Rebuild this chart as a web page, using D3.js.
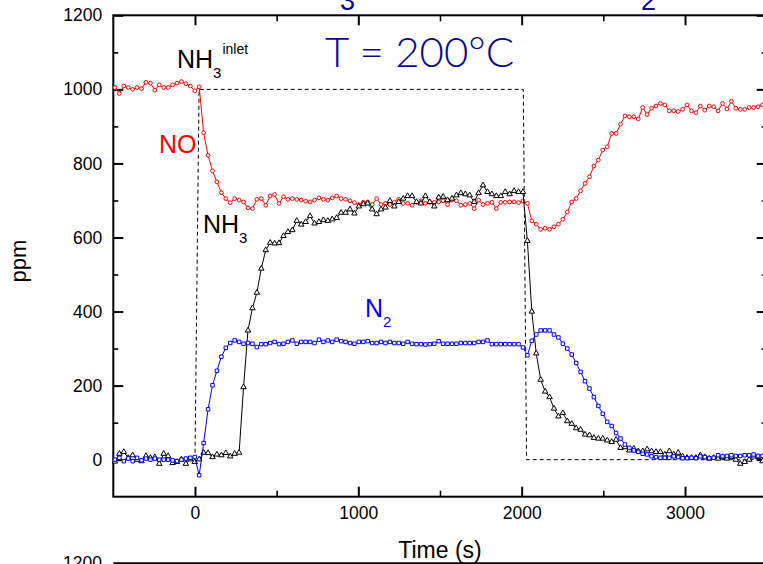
<!DOCTYPE html>
<html>
<head>
<meta charset="utf-8">
<script src="https://cdn.jsdelivr.net/npm/d3@7"></script>
<style>
  html, body { margin: 0; padding: 0; background: #fff; }
  svg { display: block; }
  text { font-family: "Liberation Sans", Arial, sans-serif; }
</style>
</head>
<body>
<svg id="chart" width="763" height="564"></svg>
<script>
// Sample clock shared by all three analyser channels (s)
const tStart = -490;
const tStep = 27.15;

// NO outlet concentration (ppm)
const noValues = [
  1005, 989, 1009, 1005, 1000, 1005, 1002, 1019, 1017, 998, 1012, 1005, 1005, 1012, 1017, 1021, 1015, 1009, 996, 1007,
  883, 822, 780, 750, 721, 705,
  694, 705, 701, 696, 680, 678, 703, 705, 687, 712, 716, 692, 710, 703, 705, 703, 701, 698, 696, 701, 707, 703, 701, 707,
  712, 705, 703, 699, 694, 689,
  695, 696, 689, 705, 689, 692, 689, 695, 703, 692, 692, 687, 695, 699, 692, 695, 695, 696, 699, 689, 701, 699, 687, 689,
  692, 678, 701, 689, 692, 695, 678, 695, 695, 696, 696, 694, 699, 692,
  645, 636, 622, 625, 622, 629, 636, 649, 669, 696,
  705, 726, 746, 764, 793, 809, 836, 845, 881, 881, 906, 928, 926, 926, 920, 951, 932, 949, 955, 962, 958, 942, 942, 940,
  946, 958, 942, 937, 955, 944, 955, 953, 942, 962, 947, 968, 949, 946, 946, 951, 951, 953, 958
];

// NH3 outlet concentration (ppm)
const nh3Values = [
  -5, 16, 21, 5, 12, 0, -4, 10, 5, 7, -11, 16, 10, -9, -6, 1, -11, 1, -6, 1, 19, 18, 7, 14, 12, 18, 9, 16, 19,
  196, 349, 409, 451, 516, 566, 586, 584, 585, 604, 615, 620, 645, 635, 642, 658, 638, 642, 647, 645, 649, 653, 667, 667,
  676, 665, 684,
  690, 692, 676, 663, 676, 681, 699, 684, 696, 705, 712, 712, 696, 692, 712, 696, 684, 708, 710, 701, 705, 714, 720, 717,
  714, 696, 720, 741, 723, 717, 712, 712, 723, 717, 726, 723, 723, 591,
  400, 287, 216, 184, 169, 138, 117, 126, 104, 97, 85, 81, 68, 66, 59, 57, 57, 52, 48, 54, 32, 34, 25, 30, 23, 23, 28,
  23, 21, 21, 14, 23, 14, 19, 9, 5, 5, 5, 12, 7, 3, 5, 3, 7, 3, 7, 0, -11, -6, 0, 9, 7, -4
];

// N2 outlet concentration (ppm)
const n2Values = [
  0, 5, -4, 3, -4, 5, -2, 3, 0, 3, 0, 0, 0, -2, -4, 0, 3, 5, 7,
  -42, 45, 136, 201, 240, 278, 302, 315, 322, 318,
  313, 315, 313, 304, 312, 312, 315, 318, 312, 313, 318, 322, 313, 318, 318, 318, 315, 324, 318, 322, 318, 324, 320, 318,
  315, 313, 318,
  318, 320, 315, 315, 318, 315, 318, 315, 315, 313, 318, 313, 312, 312, 311, 312, 313, 320, 313, 313, 313, 313, 315, 315,
  315, 315, 318, 318, 322, 312, 312, 312, 312, 312, 312,
  312, 303, 282, 321, 338, 349, 349, 349, 338, 330, 313, 300, 284, 261, 237, 212, 192, 169, 145, 124, 102, 91, 72, 57,
  41, 32, 25, 21, 16, 14, 9, 7, 5, 5, 5, 9, 7, 4, 4, 5, 4, 9, 7, 4, 5, 12, 9, 10, 12, 10, 10, 12, 12, 14, 10, 10
];

// NH3 feed step (ppm)
const inletTimes = [0, 25, 2010, 2030, 3500];
const inletValues = [0, 1000, 1000, 0, 0];

// Axis ticks
const xMajorTicks = [0, 1000, 2000, 3000];
const xMinorTicks = [500, 1500, 2500, 3500];
const yMajorTicks = [0, 200, 400, 600, 800, 1000, 1200];
const yMinorTicks = [100, 300, 500, 700, 900, 1100];

(function () {
  const times = d3.range(noValues.length).map(i => tStart + i * tStep);

  const svg = d3.select("#chart");
  svg.append("rect").attr("width", 763).attr("height", 564).attr("fill", "#fff");

  const m = { left: 113.3, right: 766.7, top: 15.3, bottom: 496.7 };
  const x = d3.scaleLinear().domain([-500, 3500]).range([m.left, m.right]);
  const y = d3.scaleLinear().domain([-100, 1200]).range([m.bottom, m.top]);

  const tickFont = "17.5px";

  // Axes: ticks point into the plot on all four sides
  function styleAxis(g, width) {
    g.select(".domain").remove();
    g.selectAll(".tick line").attr("stroke", "#000").attr("stroke-width", width);
    g.selectAll("text").attr("fill", "#000").style("font-size", tickFont)
      .style("font-family", "'Liberation Sans', Arial, sans-serif");
  }

  // bottom
  svg.append("g").attr("transform", `translate(0,${m.bottom})`)
    .call(d3.axisBottom(x).tickValues(xMajorTicks).tickSize(-10).tickPadding(22).tickFormat(d3.format("d")))
    .call(g => styleAxis(g, 2))
    .call(g => g.selectAll("text").attr("dy", "0"));
  svg.append("g").attr("transform", `translate(0,${m.bottom})`)
    .call(d3.axisBottom(x).tickValues(xMinorTicks).tickSize(-6).tickFormat(""))
    .call(g => styleAxis(g, 1.6));
  // top
  svg.append("g").attr("transform", `translate(0,${m.top})`)
    .call(d3.axisTop(x).tickValues(xMajorTicks).tickSize(-10).tickFormat(""))
    .call(g => styleAxis(g, 2));
  svg.append("g").attr("transform", `translate(0,${m.top})`)
    .call(d3.axisTop(x).tickValues(xMinorTicks).tickSize(-6).tickFormat(""))
    .call(g => styleAxis(g, 1.6));
  // left
  svg.append("g").attr("transform", `translate(${m.left},0)`)
    .call(d3.axisLeft(y).tickValues(yMajorTicks).tickSize(-10).tickPadding(11).tickFormat(d3.format("d")))
    .call(g => styleAxis(g, 2));
  svg.append("g").attr("transform", `translate(${m.left},0)`)
    .call(d3.axisLeft(y).tickValues(yMinorTicks).tickSize(-5).tickFormat(""))
    .call(g => styleAxis(g, 1.6));
  // right
  svg.append("g").attr("transform", `translate(${m.right},0)`)
    .call(d3.axisRight(y).tickValues(yMajorTicks).tickSize(-10).tickFormat(""))
    .call(g => styleAxis(g, 2));
  svg.append("g").attr("transform", `translate(${m.right},0)`)
    .call(d3.axisRight(y).tickValues(yMinorTicks).tickSize(-5).tickFormat(""))
    .call(g => styleAxis(g, 1.6));

  // frame
  svg.append("rect")
    .attr("x", m.left).attr("y", m.top)
    .attr("width", m.right - m.left).attr("height", m.bottom - m.top)
    .attr("fill", "none").attr("stroke", "#000").attr("stroke-width", 2);

  // axis titles
  svg.append("text").attr("x", (m.left + m.right) / 2).attr("y", 558)
    .attr("text-anchor", "middle").style("font-size", "23px").text("Time (s)");
  svg.append("text").attr("transform", "translate(25.5,261) rotate(-90)")
    .attr("text-anchor", "middle").style("font-size", "22px").text("ppm");

  // plot contents
  const plot = svg.append("g");

  const inlet = inletTimes.map((t, i) => [t, inletValues[i]]);
  plot.append("path").datum(inlet)
    .attr("d", d3.line().x(d => x(d[0])).y(d => y(d[1])))
    .attr("fill", "none").attr("stroke", "#000").attr("stroke-width", 1)
    .attr("stroke-dasharray", "4,3");

  function drawSeries(values, color, symbolType, size) {
    const pts = values.map((v, i) => [times[i], v]).filter(d => d[0] <= 3500);
    const g = plot.append("g");
    g.append("path").datum(pts)
      .attr("d", d3.line().x(d => x(d[0])).y(d => y(d[1])))
      .attr("fill", "none").attr("stroke", color).attr("stroke-width", 1);
    g.selectAll("path.m").data(pts).join("path").attr("class", "m")
      .attr("transform", d => `translate(${x(d[0])},${y(d[1])})`)
      .attr("d", d3.symbol().type(symbolType).size(size))
      .attr("fill", "#fff").attr("stroke", color).attr("stroke-width", 1);
  }

  drawSeries(noValues, "#ff0000", d3.symbolCircle, 11);
  drawSeries(nh3Values, "#000000", d3.symbolTriangle, 13);
  drawSeries(n2Values, "#0000ff", d3.symbolSquare, 12);

  // labels
  const navy = "#0a0a8c";
  svg.append("text").attr("x", 325).attr("y", 67).attr("fill", navy)
    .style("font-family", "Lato, 'Liberation Sans', sans-serif").style("font-weight", 300)
    .style("font-size", "42px").text("T = 200°C");

  const lab1 = svg.append("text").attr("x", 177).attr("y", 68).attr("fill", "#000").style("font-size", "25px");
  lab1.append("tspan").text("NH");
  lab1.append("tspan").attr("dy", 10).style("font-size", "15px").text("3");
  lab1.append("tspan").attr("dx", 1).attr("dy", -24).style("font-size", "14px").text("inlet");

  svg.append("text").attr("x", 159).attr("y", 153).attr("fill", "#ff0000")
    .style("font-size", "25px").text("NO");

  const lab2 = svg.append("text").attr("x", 203).attr("y", 233).attr("fill", "#000").style("font-size", "25px");
  lab2.append("tspan").text("NH");
  lab2.append("tspan").attr("dy", 10).style("font-size", "15px").text("3");

  const lab3 = svg.append("text").attr("x", 365).attr("y", 317).attr("fill", "#0000ff").style("font-size", "25px");
  lab3.append("tspan").text("N");
  lab3.append("tspan").attr("dy", 10).style("font-size", "15px").text("2");

  // subscripts of the panel heading, which runs off the top edge
  const head = svg.append("g").attr("fill", navy).style("font-size", "27px");
  head.append("text").attr("x", 340).attr("y", 10).text("3");
  head.append("text").attr("x", 641).attr("y", 10).text("2");

  // top edge of the following panel
  svg.append("line").attr("x1", m.left).attr("x2", m.right).attr("y1", 563.3).attr("y2", 563.3)
    .attr("stroke", "#000").attr("stroke-width", 2);
  svg.append("text").attr("x", 102).attr("y", 563).attr("text-anchor", "end")
    .attr("dominant-baseline", "central").style("font-size", tickFont).text("1200");
})();
</script>
</body>
</html>
